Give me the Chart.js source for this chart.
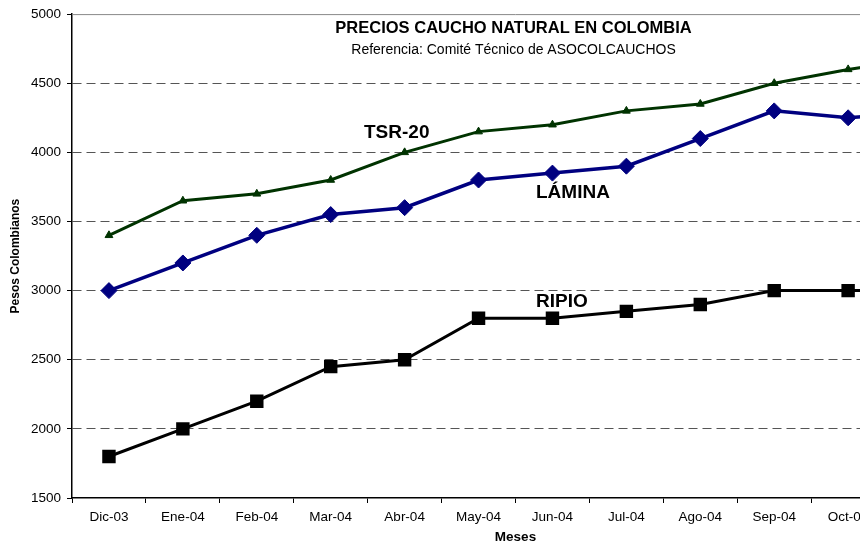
<!DOCTYPE html>
<html>
<head>
<meta charset="utf-8">
<script src="https://cdn.jsdelivr.net/npm/chart.js@4"></script>
<style>
  html, body { margin: 0; padding: 0; background: #fff; overflow: hidden; }
  #wrap { width: 970px; height: 549px; }
</style>
</head>
<body>
<div id="wrap"><canvas id="lineChart" width="970" height="549"></canvas></div>
<script>
// meses (el grafico original queda cortado a la derecha, despues de Oct-04)
var meses = ['Dic-03', 'Ene-04', 'Feb-04', 'Mar-04', 'Abr-04', 'May-04',
             'Jun-04', 'Jul-04', 'Ago-04', 'Sep-04', 'Oct-04', 'Nov-04'];

var tsr20  = [3400, 3650, 3700, 3800, 4000, 4150, 4200, 4300, 4350, 4500, 4600, 4680];
var lamina = [3000, 3200, 3400, 3550, 3600, 3800, 3850, 3900, 4100, 4300, 4250, 4290];
var ripio  = [1800, 2000, 2200, 2450, 2500, 2800, 2800, 2850, 2900, 3000, 3000, 3000];

var yMin = 1500, yMax = 5000, yStep = 500;

var FONT = 'Liberation Sans, Arial, sans-serif';

// titulos y etiquetas dentro del area de grafico (estilo excel)
var textosPlugin = {
    id: 'textos',
    afterDraw: function(chart) {
        var ctx = chart.ctx;
        var area = chart.chartArea;
        ctx.save();

        // borde superior del area
        ctx.strokeStyle = '#888';
        ctx.lineWidth = 1;
        ctx.beginPath();
        ctx.moveTo(area.left, area.top + 0.5);
        ctx.lineTo(area.right, area.top + 0.5);
        ctx.stroke();

        var cx = (area.left + area.right) / 2 - 2;
        ctx.fillStyle = '#000';
        ctx.textAlign = 'center';
        ctx.textBaseline = 'middle';
        ctx.font = 'bold 16.5px ' + FONT;
        ctx.fillText('PRECIOS CAUCHO NATURAL EN COLOMBIA', cx, 28);
        ctx.font = '14px ' + FONT;
        ctx.fillText('Referencia: Comité Técnico de ASOCOLCAUCHOS', cx, 50);

        ctx.font = 'bold 19px ' + FONT;
        ctx.textAlign = 'left';
        ctx.fillText('TSR-20', 364, 133);
        ctx.fillText('LÁMINA', 536, 193);
        ctx.fillText('RIPIO', 536, 302);
        ctx.restore();
    }
};

function loadChart() {
    var ctx = document.getElementById('lineChart');

    var chart = new Chart(ctx, {
        type: 'line',
        data: {
            labels: meses,
            datasets: [
                {
                    label: 'TSR-20',
                    data: tsr20,
                    borderColor: '#003300',
                    backgroundColor: '#003300',
                    borderWidth: 3,
                    pointStyle: 'triangle',
                    pointRadius: 4.5,
                    pointBorderWidth: 1
                },
                {
                    label: 'LÁMINA',
                    data: lamina,
                    borderColor: '#000080',
                    backgroundColor: '#000080',
                    borderWidth: 3.5,
                    pointStyle: 'rectRot',
                    pointRadius: 8,
                    pointBorderWidth: 1
                },
                {
                    label: 'RIPIO',
                    data: ripio,
                    borderColor: '#000000',
                    backgroundColor: '#000000',
                    borderWidth: 3,
                    pointStyle: 'rect',
                    pointRadius: 9.5,
                    pointBorderWidth: 0
                }
            ]
        },
        options: {
            responsive: false,
            animation: false,
            layout: { padding: { top: 13, right: 11, left: 4, bottom: 4 } },
            plugins: {
                legend: { display: false },
                tooltip: { enabled: false }
            },
            scales: {
                x: {
                    offset: true,
                    grid: {
                        offset: true,
                        drawOnChartArea: false,
                        drawTicks: true,
                        tickLength: 5,
                        tickColor: '#000'
                    },
                    border: { color: '#000', width: 1.5 },
                    ticks: {
                        color: '#000',
                        font: { family: FONT, size: 13.5 },
                        padding: 6,
                        maxRotation: 0,
                        autoSkip: false
                    },
                    title: {
                        display: true,
                        text: 'Meses',
                        color: '#000',
                        font: { family: FONT, size: 13.5, weight: 'bold' },
                        padding: { top: 2, bottom: 0 }
                    },
                    afterFit: function(scale) { scale.height = 47; }
                },
                y: {
                    min: yMin,
                    max: yMax,
                    ticks: {
                        stepSize: yStep,
                        color: '#000',
                        font: { family: FONT, size: 13.5 },
                        padding: 6,
                        callback: function(v) { return String(v); }
                    },
                    grid: {
                        color: function(c) {
                            var v = c.tick ? c.tick.value : null;
                            return (v === yMin || v === yMax) ? 'rgba(0,0,0,0)' : '#555';
                        },
                        tickColor: '#000',
                        tickLength: 5,
                        lineWidth: 1
                    },
                    border: { color: '#000', width: 1.5, dash: [9, 5] },
                    title: {
                        display: true,
                        text: 'Pesos Colombianos',
                        color: '#000',
                        font: { family: FONT, size: 12, weight: 'bold' },
                        padding: { top: 4, bottom: 6 }
                    },
                    afterFit: function(scale) { scale.width = 68; }
                }
            }
        },
        plugins: [textosPlugin]
    });
    return chart;
}

loadChart();
</script>
</body>
</html>
